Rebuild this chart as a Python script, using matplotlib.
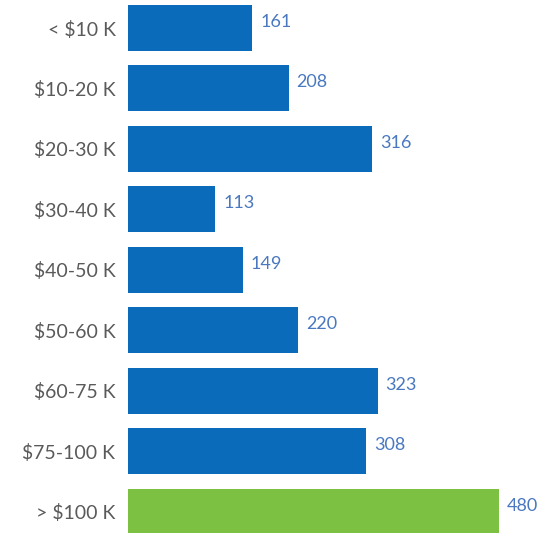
import matplotlib.pyplot as plt

categories = ["< $10 K", "$10-20 K", "$20-30 K", "$30-40 K", "$40-50 K",
              "$50-60 K", "$60-75 K", "$75-100 K", "> $100 K"]
counts = [161, 208, 316, 113, 149, 220, 323, 308, 480]
bar_colors = ["#0a6bbb"] * 8 + ["#7dc142"]

plt.rcParams["font.family"] = ["Lato", "DejaVu Sans"]

fig = plt.figure(figsize=(5.57, 5.33), dpi=100)
ax = fig.add_axes([128 / 557, 0, 1 - 128 / 557, 1])

y = list(range(len(categories)))
ax.barh(y, counts, height=0.76, color=bar_colors)

for yi, v in zip(y, counts):
    ax.text(v + 10, yi - 0.1, str(v), va="center", ha="left",
            fontsize=13, color="#4a78c0")

ax.set_yticks(y)
ax.set_yticklabels(categories, fontsize=14, color="#5a5a5a")
ax.tick_params(axis="y", length=0, pad=9)
ax.set_xticks([])
ax.set_xlim(0, 555)
ax.set_ylim(8.35, -0.463)
for s in ax.spines.values():
    s.set_visible(False)

fig.savefig("out.png", dpi=100)
